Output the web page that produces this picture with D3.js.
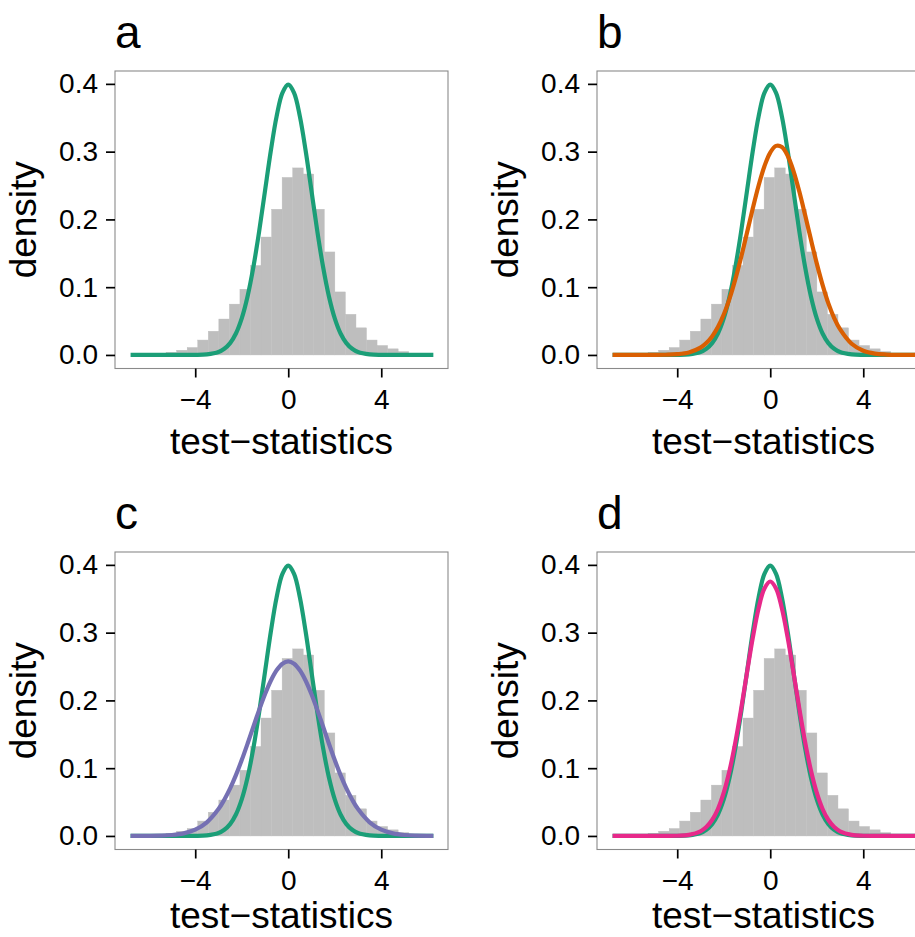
<!DOCTYPE html>
<html><head><meta charset="utf-8">
<script src="https://cdn.jsdelivr.net/npm/d3@7"></script>
<style>body{margin:0;background:#fff}svg{display:block}</style>
</head><body><svg id="chart" width="915" height="937"></svg>
<script>
// ---- data ----
const panelLabels = ["a", "b", "c", "d"];
const xTicks = [-4, 0, 4];
const yTicks = [0, 0.1, 0.2, 0.3, 0.4];
const xTitle = "test\u2212statistics";
const yTitle = "density";

// histogram (same sample in every panel): left edge of each bin and its density
const binWidth = 0.4537;
const binStarts = [-5.708, -5.254, -4.800, -4.346, -3.893, -3.439, -2.985, -2.532, -2.078, -1.624, -1.171, -0.717, -0.263,
                   0.190, 0.644, 1.098, 1.551, 2.005, 2.459, 2.912, 3.366, 3.820, 4.273, 4.727, 5.181];
const binDensity = [0.0015, 0.004, 0.007, 0.011, 0.022, 0.035, 0.053, 0.075, 0.097, 0.132, 0.174, 0.215, 0.262,
                    0.276, 0.267, 0.215, 0.152, 0.093, 0.060, 0.040, 0.022, 0.014, 0.009, 0.005, 0.0025];

// density curves sampled at curveX
const curveX = [-6.78, -6, -5.5, -5, -4.5, -4, -3.5, -3, -2.75, -2.5, -2.25, -2, -1.75, -1.5, -1.25, -1, -0.75, -0.5, -0.25, 0,
                0.25, 0.5, 0.75, 1, 1.25, 1.5, 1.75, 2, 2.25, 2.5, 2.75, 3, 3.5, 4, 4.5, 5, 5.5, 6, 6.24];
const theoreticalNull = [0, 0, 0, 0, 0.00002, 0.0001, 0.0009, 0.0044, 0.0091, 0.0175, 0.0317, 0.0540, 0.0863, 0.1295, 0.1826, 0.2420, 0.3011, 0.3521, 0.3867, 0.3989,
                0.3867, 0.3521, 0.3011, 0.2420, 0.1826, 0.1295, 0.0863, 0.0540, 0.0317, 0.0175, 0.0091, 0.0044, 0.0009, 0.0001, 0.00002, 0, 0, 0, 0];
const nullB = [0, 0, 0.00001, 0.00006, 0.0003, 0.0011, 0.0037, 0.0108, 0.0176, 0.0274, 0.0412, 0.0596, 0.0832, 0.1118, 0.1446, 0.1802, 0.2164, 0.2501, 0.2785, 0.2987,
                0.3085, 0.3068, 0.2940, 0.2713, 0.2411, 0.2064, 0.1702, 0.1351, 0.1034, 0.0761, 0.0545, 0.0380, 0.0165, 0.0062, 0.0020, 0.0006, 0.0001, 0, 0];
const nullC = [0.00002, 0.00014, 0.00047, 0.0014, 0.0038, 0.0092, 0.0201, 0.0396, 0.0534, 0.0701, 0.0898, 0.1120, 0.1361, 0.1612, 0.1860, 0.2091, 0.2290, 0.2444, 0.2542, 0.2575,
                0.2542, 0.2444, 0.2290, 0.2091, 0.1860, 0.1612, 0.1361, 0.1120, 0.0898, 0.0701, 0.0534, 0.0396, 0.0201, 0.0092, 0.0038, 0.0014, 0.00047, 0.00014, 0.0001];
const nullD = [0, 0, 0, 0, 0.00004, 0.0003, 0.0016, 0.0069, 0.0131, 0.0235, 0.0398, 0.0638, 0.0966, 0.1385, 0.1878, 0.2410, 0.2926, 0.3361, 0.3652, 0.3755,
                0.3652, 0.3361, 0.2926, 0.2410, 0.1878, 0.1385, 0.0966, 0.0638, 0.0398, 0.0235, 0.0131, 0.0069, 0.0016, 0.0003, 0.00004, 0, 0, 0, 0];

const panelExtra = [null, nullB, nullC, nullD];
const extraColors = [null, "#D95F02", "#7570B3", "#E7298A"];
const nullColor = "#1B9E77";

// ---- layout ----
const font = "'Liberation Sans', Arial, Helvetica, sans-serif";
const W = 333, H = 297.5;
const origins = [[115, 71], [597, 71], [115, 552], [597, 552]];
const xTitleY = [383, 383, 376, 376];

const svg = d3.select("#chart");
const x = d3.scaleLinear().domain([-7.45, 6.87]).range([0, W]);
const y = d3.scaleLinear().domain([-0.02, 0.419]).range([H, 0]);
const line = d3.line().x((d) => x(d[0])).y((d) => y(d[1])).curve(d3.curveCatmullRom.alpha(0.5));

panelLabels.forEach((lab, i) => {
  const [ox, oy] = origins[i];
  const g = svg.append("g").attr("transform", `translate(${ox},${oy})`);

  g.append("rect").attr("width", W).attr("height", H).attr("fill", "#fff");

  g.selectAll("rect.bar").data(binStarts.map((s, k) => [s, binDensity[k]]))
    .join("rect").attr("class", "bar")
    .attr("x", (d) => x(d[0]))
    .attr("width", (d) => x(d[0] + binWidth) - x(d[0]))
    .attr("y", (d) => y(d[1]))
    .attr("height", (d) => y(0) - y(d[1]))
    .attr("fill", "#BEBEBE")
    .attr("stroke", "#BEBEBE").attr("stroke-width", 0.4);

  g.append("path").datum(curveX.map((v, k) => [v, theoreticalNull[k]]))
    .attr("d", line).attr("fill", "none").attr("stroke", nullColor)
    .attr("stroke-width", 4.2).attr("stroke-linejoin", "round");

  if (panelExtra[i]) {
    g.append("path").datum(curveX.map((v, k) => [v, panelExtra[i][k]]))
      .attr("d", line).attr("fill", "none").attr("stroke", extraColors[i])
      .attr("stroke-width", 4.2).attr("stroke-linejoin", "round");
  }

  g.append("rect").attr("width", W).attr("height", H)
    .attr("fill", "none").attr("stroke", "#8a8a8a").attr("stroke-width", 1.1);

  const ya = g.append("g").call(d3.axisLeft(y).tickValues(yTicks).tickSize(9).tickPadding(8).tickFormat(d3.format(".1f")));
  ya.select(".domain").remove();
  ya.selectAll("line").attr("stroke", "#000").attr("stroke-width", 1.7);
  ya.selectAll("text").attr("font-family", font).attr("font-size", 28).attr("fill", "#000");

  const xa = g.append("g").attr("transform", `translate(0,${H})`)
    .call(d3.axisBottom(x).tickValues(xTicks).tickSize(9).tickPadding(12));
  xa.select(".domain").remove();
  xa.selectAll("line").attr("stroke", "#000").attr("stroke-width", 1.7);
  xa.selectAll("text").attr("font-family", font).attr("font-size", 28).attr("fill", "#000");

  g.append("text").attr("x", W / 2).attr("y", xTitleY[i])
    .attr("text-anchor", "middle").attr("font-family", font).attr("font-size", 37)
    .attr("fill", "#000").text(xTitle);

  g.append("text").attr("transform", `translate(${-79},${H / 2}) rotate(-90)`)
    .attr("text-anchor", "middle").attr("font-family", font).attr("font-size", 37)
    .attr("fill", "#000").text(yTitle);

  g.append("text").attr("x", 0).attr("y", -23)
    .attr("font-family", font).attr("font-size", 46).attr("fill", "#000").text(lab);
});
</script>
</body></html>
